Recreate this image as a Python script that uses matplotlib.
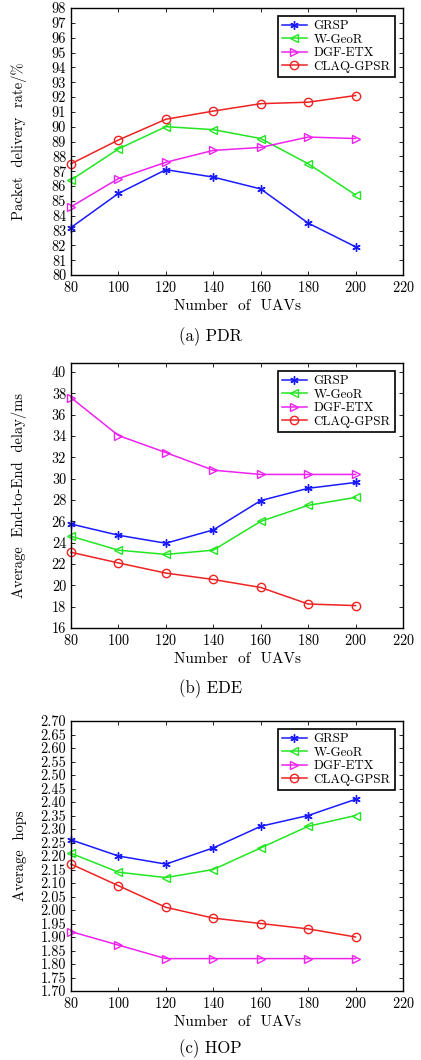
import matplotlib
matplotlib.use("Agg")
import matplotlib.pyplot as plt
import numpy as np

plt.rcParams['font.family'] = ['cmr10', 'DejaVu Serif']
plt.rcParams['axes.formatter.use_mathtext'] = True
plt.rcParams['mathtext.fontset'] = 'cm'

# number of UAVs
uavs = [80, 100, 120, 140, 160, 180, 200]
methods = ['GRSP', 'W-GeoR', 'DGF-ETX', 'CLAQ-GPSR']

# packet delivery rate (%)
pdr_grsp = [83.2, 85.5, 87.1, 86.6, 85.8, 83.5, 81.9]
pdr_wgeor = [86.4, 88.5, 90.0, 89.8, 89.2, 87.5, 85.4]
pdr_dgf = [84.6, 86.5, 87.6, 88.4, 88.6, 89.3, 89.2]
pdr_claq = [87.5, 89.1, 90.5, 91.05, 91.55, 91.65, 92.1]

# average end-to-end delay (ms)
ede_grsp = [25.75, 24.7, 23.95, 25.2, 27.95, 29.1, 29.65]
ede_wgeor = [24.6, 23.3, 22.9, 23.3, 26.0, 27.5, 28.25]
ede_dgf = [37.6, 34.05, 32.45, 30.8, 30.4, 30.4, 30.4]
ede_claq = [23.1, 22.1, 21.15, 20.55, 19.8, 18.25, 18.1]

# average hops
hop_grsp = [2.26, 2.20, 2.17, 2.23, 2.31, 2.35, 2.41]
hop_wgeor = [2.21, 2.14, 2.12, 2.15, 2.23, 2.31, 2.35]
hop_dgf = [1.92, 1.87, 1.82, 1.82, 1.82, 1.82, 1.82]
hop_claq = [2.17, 2.09, 2.01, 1.97, 1.95, 1.93, 1.90]

styles = [
    dict(color='#1a1aff', marker=(6, 2, 0), markersize=6, markeredgewidth=1.0),
    dict(color='#22e622', marker='<', markersize=6, markerfacecolor='none'),
    dict(color='#ee22ee', marker='>', markersize=6, markerfacecolor='none'),
    dict(color='#ee2222', marker='o', markersize=6, markerfacecolor='none'),
]

W, H = 421, 1060
fig = plt.figure(figsize=(W / 100, H / 100), dpi=100)

panels = [
    # top px, bottom px, data, ylim, yticks, ylabel, caption, fmt, caption offset px
    (8, 275, [pdr_grsp, pdr_wgeor, pdr_dgf, pdr_claq], (80, 98),
     np.arange(80, 99, 1), 'Packet  delivery  rate/%', '(a) PDR', '{:.0f}', 62),
    (363, 628, [ede_grsp, ede_wgeor, ede_dgf, ede_claq], (16, 40.85),
     np.arange(16, 41, 2), 'Average  End-to-End  delay/ms', '(b) EDE', '{:.0f}', 61),
    (721, 991, [hop_grsp, hop_wgeor, hop_dgf, hop_claq], (1.70, 2.70),
     np.arange(1.70, 2.701, 0.05), 'Average  hops', '(c) HOP', '{:.2f}', 58),
]

left_px, right_px = 71, 403
aw = right_px - left_px
for top, bot, series, ylim, yticks, ylabel, caption, fmt, cap_off in panels:
    ah = bot - top
    ax = fig.add_axes([left_px / W, 1 - bot / H, aw / W, ah / H])
    for name, vals, st in zip(methods, series, styles):
        ax.plot(uavs, vals, label=name, linewidth=1.1, clip_on=False, **st)
    ax.set_xlim(80, 220)
    ax.set_ylim(*ylim)
    ax.set_xticks(np.arange(80, 221, 20))
    ax.set_yticks(yticks)
    ax.set_yticklabels([fmt.format(v) for v in yticks])
    ax.tick_params(direction='in', top=True, right=True, labelsize=10.3, length=3, width=0.6, pad=3.5)
    for s in ax.spines.values():
        s.set_linewidth(1.0)
    ax.set_xlabel('Number  of  UAVs', fontsize=11)
    ax.xaxis.set_label_coords(0.5, -24 / ah)
    ax.set_ylabel(ylabel, fontsize=10.5)
    ax.yaxis.set_label_coords(-(left_px - 27) / aw, 0.5)
    leg = ax.legend(loc='upper right', fontsize=9.3, frameon=True, fancybox=False,
                    edgecolor='black', framealpha=1, borderpad=0.35, labelspacing=0.1,
                    handlelength=1.9, borderaxespad=0.6, handletextpad=0.55)
    leg.get_frame().set_linewidth(1.2)
    fig.text(0.5, 1 - (bot + cap_off) / H, caption,
             ha='center', va='center', fontsize=12)

fig.savefig('out.png', dpi=100)
